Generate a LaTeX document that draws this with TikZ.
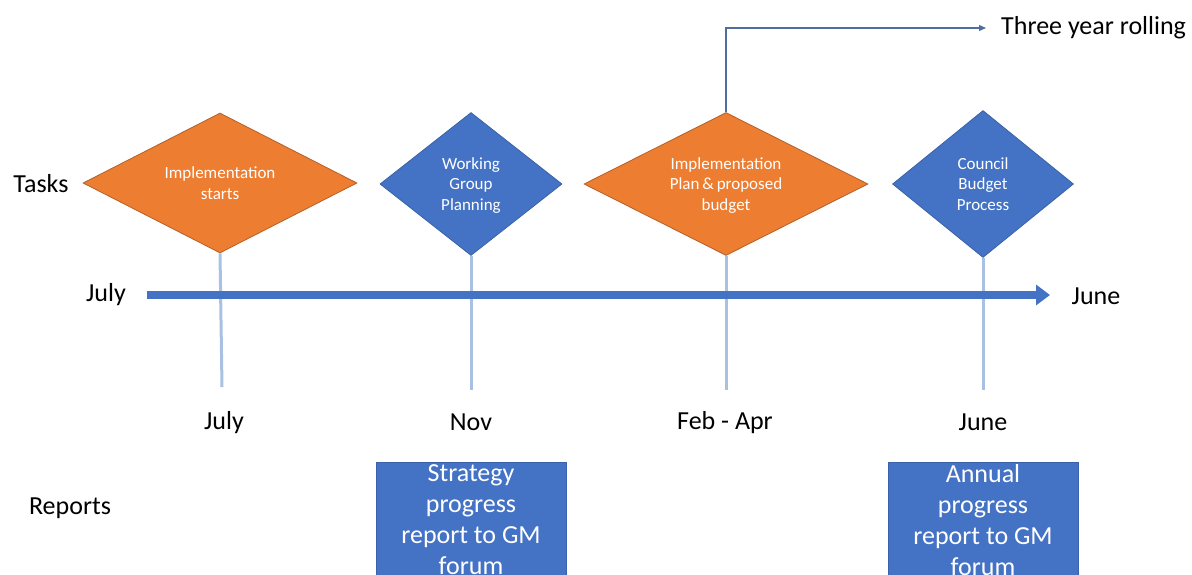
\documentclass[tikz,border=0pt]{standalone}
\usepackage{fontspec}
\setmainfont{Carlito}
\usetikzlibrary{shapes.geometric,arrows.meta}
\definecolor{orng}{HTML}{ED7D31}
\definecolor{orngdk}{HTML}{B3612A}
\definecolor{blu}{HTML}{4472C4}
\definecolor{bludk}{HTML}{3A62A8}
\definecolor{ltblu}{HTML}{A8C1E3}
\definecolor{conn}{HTML}{4E6E9E}
\tikzset{
  dia/.style={diamond, inner sep=0pt, shape aspect=1},
  odia/.style={dia, fill=orng, draw=orngdk, line width=0.8pt},
  bdia/.style={dia, fill=blu, draw=bludk, line width=0.8pt},
  dtxt/.style={text=white, align=center, inner sep=0pt,
    font=\fontsize{17}{20.5}\selectfont},
  lbl/.style={font=\fontsize{26}{31}\selectfont, text=black, inner sep=0pt},
  tick/.style={draw=ltblu, line width=3pt},
  rep/.style={fill=blu, draw=bludk, line width=0.6pt,
    minimum width=190pt, minimum height=140pt, anchor=north, inner sep=0pt},
  rtxt/.style={text=white, align=center, inner sep=0pt,
    font=\fontsize{26}{31}\selectfont},
}
\begin{document}
\begin{tikzpicture}[x=1pt,y=-1pt]
\useasboundingbox (0,0) rectangle (1192,574);
\clip (0,0) rectangle (1192,574);
% diamonds
\node[odia, minimum width=274pt, minimum height=140pt] (d1) at (220,183) {};
\node[bdia, minimum width=182pt, minimum height=143pt] (d2) at (471,184) {};
\node[odia, minimum width=284pt, minimum height=143pt] (d3) at (726,184) {};
\node[bdia, minimum width=181pt, minimum height=147pt] (d4) at (983,184) {};
\node[dtxt] (d1t) at (d1.center) {Implementation\\starts};
\node[dtxt] (d2t) at ([yshift=-1.5pt]d2.center) {Working\\Group\\Planning};
\node[dtxt] (d3t) at ([yshift=-1.5pt]d3.center) {Implementation\\Plan\,\&\,proposed\\budget};
\node[dtxt] (d4t) at (d4.center) {Council\\Budget\\Process};
% tick coordinates
\coordinate (t1) at (222,387);
\coordinate (t2) at (471,390);
\coordinate (t3) at (726,390);
\coordinate (t4) at (983,390);
\draw[tick] (d1.south) -- (t1);
\draw[tick] (d2.south) -- (t2);
\draw[tick] (d3.south) -- (t3);
\draw[tick] (d4.south) -- (t4);
% main timeline
\node[lbl] (jul) at (106,295) {July};
\node[lbl] (jun) at (1096,296) {June};
\coordinate (a0) at (147,295);
\coordinate (a1) at (1050,295);
\draw[blu, line width=8pt, -{Triangle[length=14pt,width=20pt]}] (a0) -- (a1);
% side labels
\node[lbl] (tasks) at (41,184) {Tasks};
\node[lbl] (reports) at (70,508) {Reports};
% month labels
\node[lbl] (m1) at (224,423) {July};
\node[lbl] (m2) at (471,422) {Nov};
\node[lbl] (m3) at (725,423) {Feb - Apr};
\node[lbl] (m4) at (983,422) {June};
% three year rolling
\node[lbl, anchor=west] (roll) at (1001,28) {Three year rolling};
\coordinate (bend) at (726,28);
\coordinate (tip) at (986,28);
\draw[conn, line width=1.2pt, -{Triangle[length=7pt,width=6pt]}] (d3.north) -- (bend) -- (tip);
% reports
\node[rep] (r1) at (471,462) {};
\node[rep] (r2) at (983,462) {};
\node[rtxt] (r1t) at (471,520) {Strategy\\progress\\report to GM\\forum};
\node[rtxt] (r2t) at (983,520) {Annual\\progress\\report to GM\\forum};
\end{tikzpicture}
\end{document}
